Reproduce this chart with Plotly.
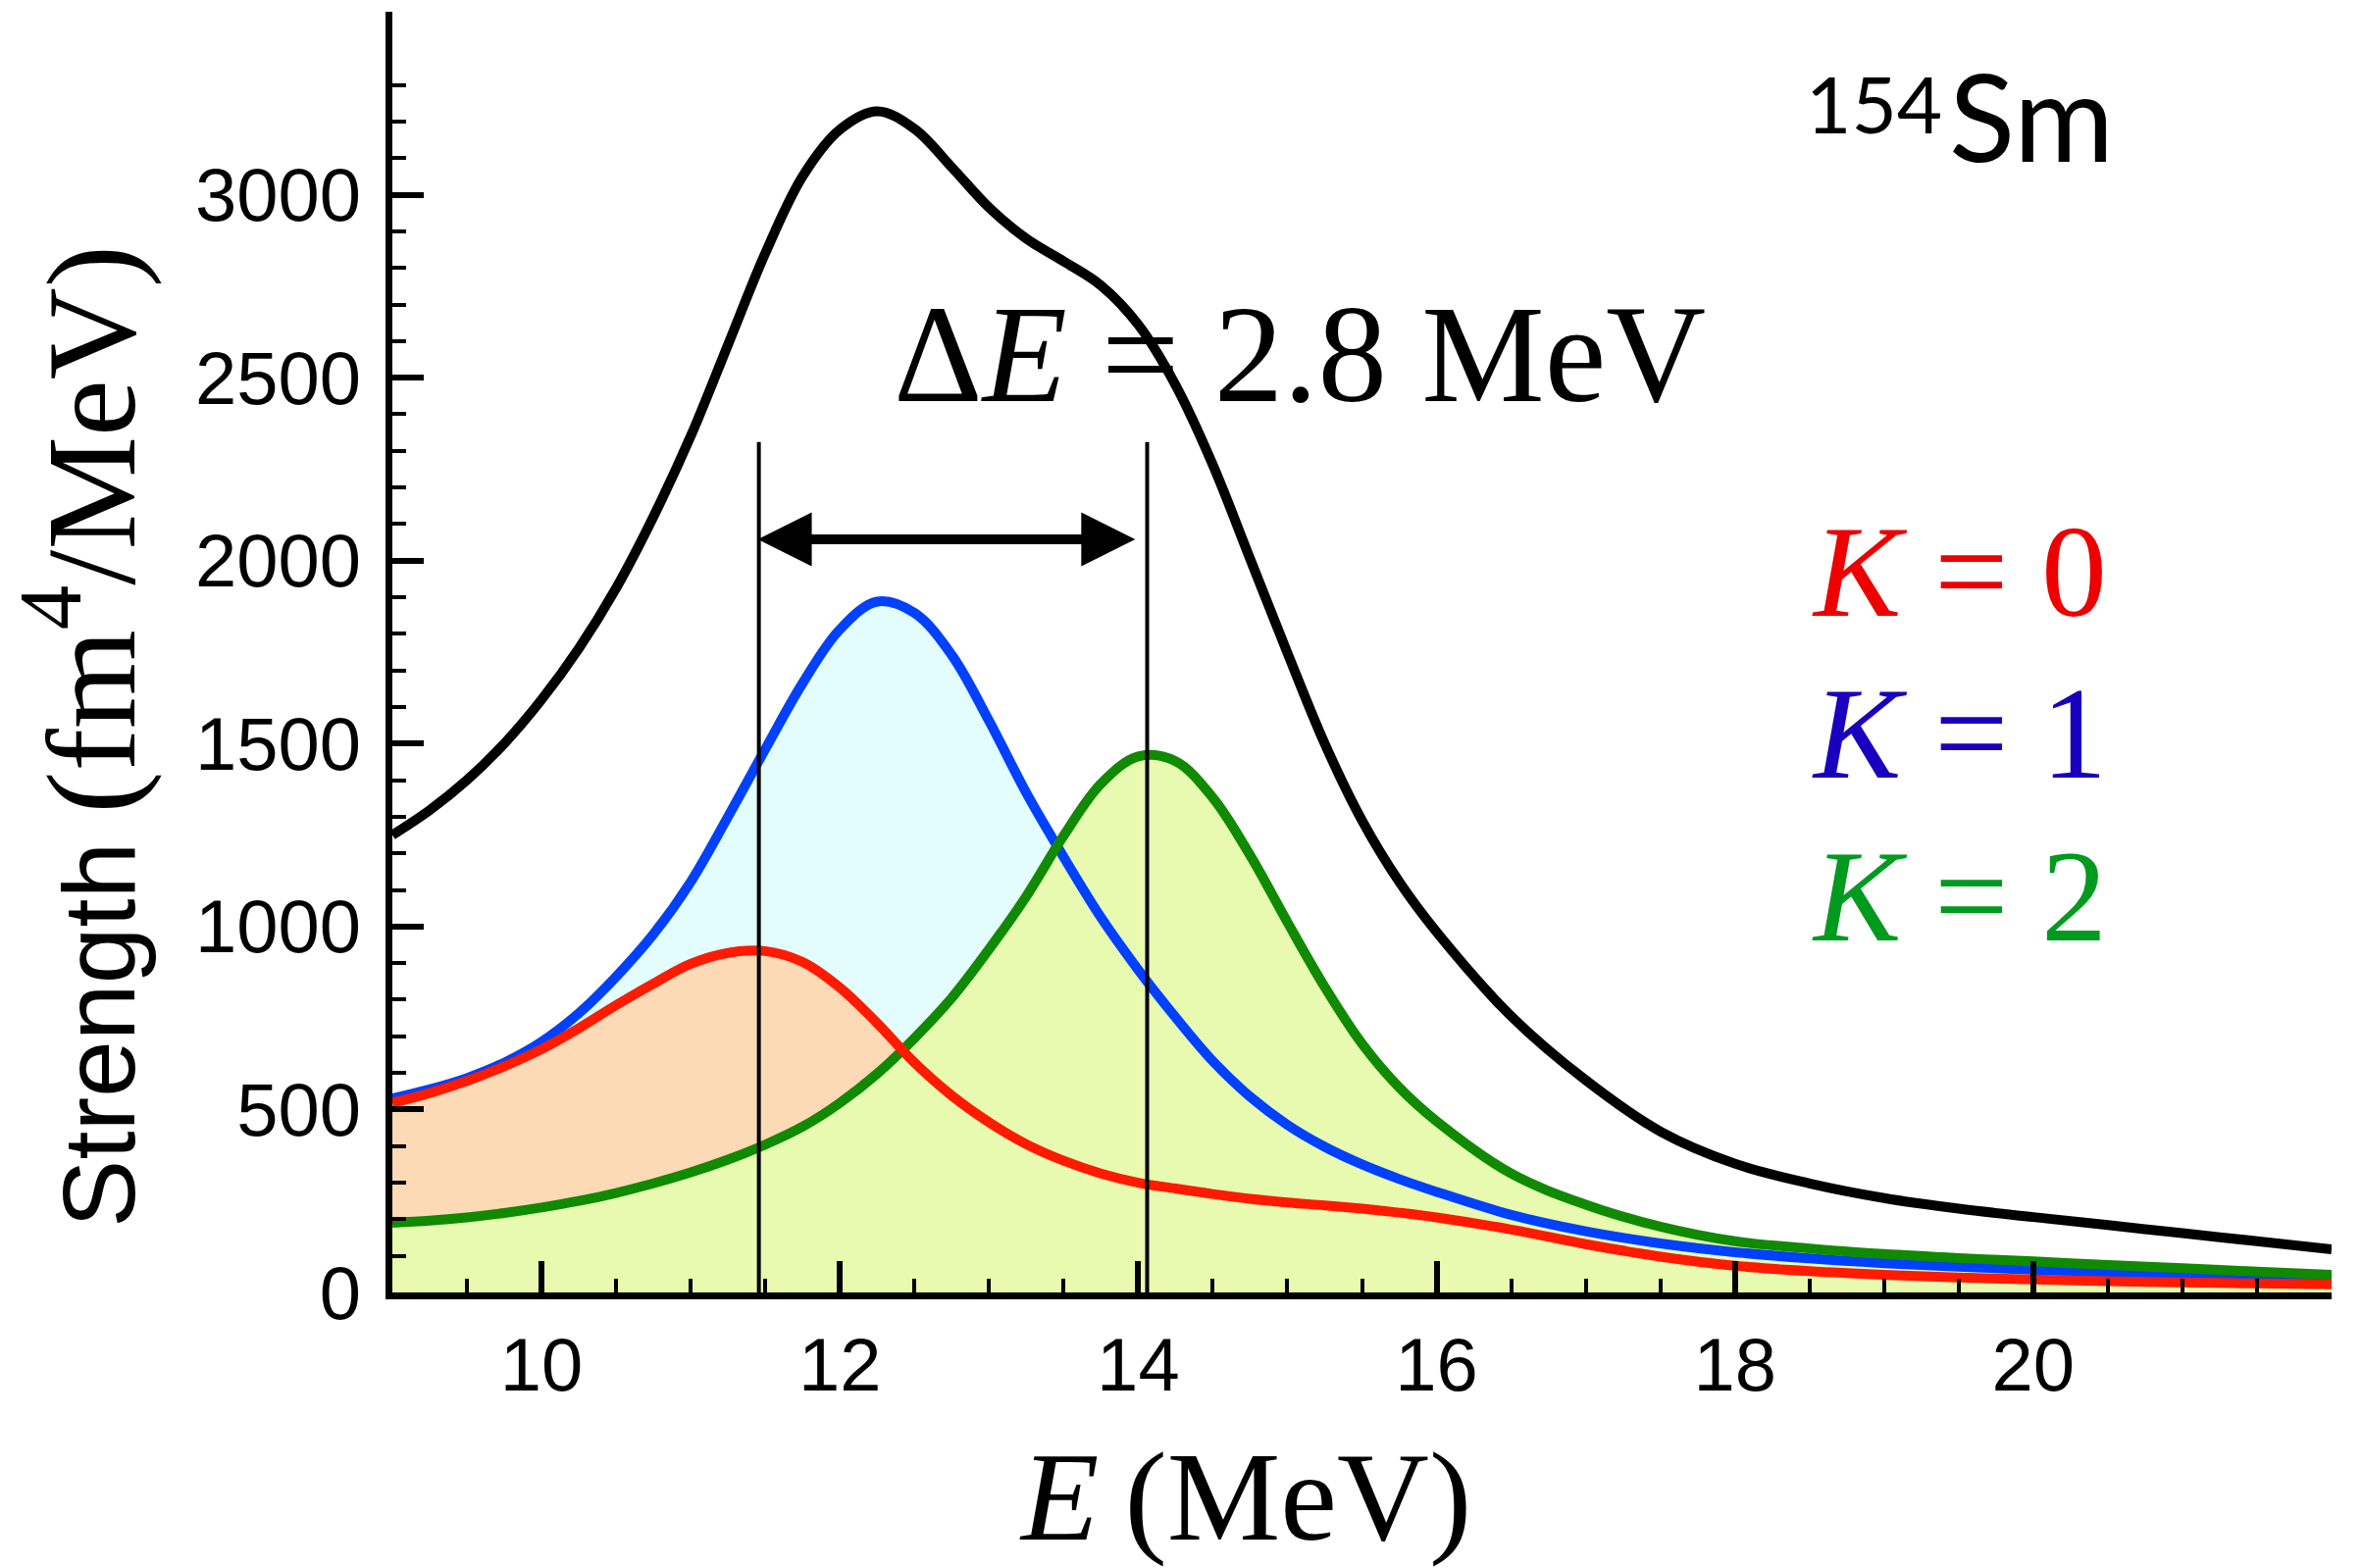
import plotly.graph_objects as go

# ---------------- data ----------------
energy = [9, 9.25, 9.5, 9.75, 10, 10.25, 10.5, 10.75, 11, 11.25, 11.5, 11.75, 12,
          12.25, 12.5, 12.75, 13, 13.25, 13.5, 13.75, 14, 14.25, 14.5, 14.75, 15,
          15.25, 15.5, 15.75, 16, 16.5, 17, 17.5, 18, 18.5, 19, 19.5, 20, 20.5,
          21, 21.5, 22]

total = [1250, 1318, 1400, 1500, 1620, 1760, 1925, 2120, 2340, 2590, 2840, 3050,
         3178, 3228, 3180, 3075, 2965, 2880, 2818, 2752, 2645, 2480, 2262, 2005,
         1748, 1500, 1290, 1122, 985, 755, 580, 440, 352, 298, 258, 229, 206, 184,
         162, 140, 118]

k0 = [518, 545, 578, 618, 665, 722, 785, 844, 898, 928, 933, 903, 833, 736, 628,
      538, 465, 405, 360, 325, 300, 284, 269, 256, 246, 238, 229, 218, 205, 172,
      132, 98, 73, 58, 48, 41, 35.5, 31, 27.5, 24.5, 22]

k1 = [530, 555, 586, 628, 685, 763, 863, 979, 1122, 1300, 1485, 1665, 1812, 1888,
      1857, 1742, 1562, 1365, 1190, 1025, 882, 752, 632, 535, 458, 398, 350, 310,
      275, 212, 167, 134, 110, 93, 80, 70, 62, 55, 48, 43, 38]

k2 = [190, 196, 205, 217, 232, 250, 272, 298, 328, 363, 404, 453, 518, 598, 695,
      805, 938, 1083, 1248, 1390, 1465, 1452, 1352, 1195, 1012, 835, 680, 560,
      468, 325, 240, 180, 140, 120, 105, 94, 85, 75, 66, 57, 48]

width_markers = [11.457, 14.06]   # energies of the two vertical guide lines
marker_top = 2324
arrow_level = 2058
arrow_ends = [11.44, 13.98]

x_major = [10, 12, 14, 16, 18, 20]
x_minor = [9.5, 10.5, 11, 11.5, 12.5, 13, 13.5, 14.5, 15, 15.5, 16.5, 17, 17.5,
           18.5, 19, 19.5, 20.5, 21, 21.5]
y_major = [0, 500, 1000, 1500, 2000, 2500, 3000]
y_minor = [v for v in range(100, 3400, 100) if v % 500 != 0]

# ---------------- styles ----------------
C_BLACK = "#000000"
C_RED = "#FF1A00"
C_BLUE = "#0040FF"
C_GREEN = "#108A00"
F_RED = "#FCDAB6"
F_BLUE = "#E3FDFD"
F_GREEN = "#E8FAB0"
LW = 10
SANS = "Liberation Sans"
SERIF = "Liberation Serif"
SMOOTH = 1.0

fig = go.Figure()

# fills (blue, red, green: later ones cover earlier ones)
for ys, fc in [(k1, F_BLUE), (k0, F_RED), (k2, F_GREEN)]:
    fig.add_trace(go.Scatter(x=energy, y=ys, mode="lines", fill="tozeroy",
                             fillcolor=fc, line=dict(width=0, shape="spline", smoothing=SMOOTH),
                             hoverinfo="skip", showlegend=False))

# curves
for ys, col in [(k1, C_BLUE), (k2, C_GREEN), (k0, C_RED), (total, C_BLACK)]:
    fig.add_trace(go.Scatter(x=energy, y=ys, mode="lines",
                             line=dict(color=col, width=LW, shape="spline", smoothing=SMOOTH),
                             showlegend=False))

# vertical guide lines
vx, vy = [], []
for e in width_markers:
    vx += [e, e, None]
    vy += [0, marker_top, None]
fig.add_trace(go.Scatter(x=vx, y=vy, mode="lines", line=dict(color="black", width=4),
                         showlegend=False))

annotations = []
# double arrow
annotations.append(dict(x=arrow_ends[1], y=arrow_level, ax=arrow_ends[0], ay=arrow_level,
                        xref="x", yref="y", axref="x", ayref="y", text="",
                        showarrow=True, arrowhead=2, startarrowhead=2, arrowside="end+start",
                        arrowsize=1.1, startarrowsize=1.1, arrowwidth=10, arrowcolor="black"))
# Delta E label
annotations.append(dict(x=12.35, y=2565, xref="x", yref="y", xanchor="left", yanchor="middle",
                        text="Δ<i>E</i> = 2.8 MeV", showarrow=False,
                        font=dict(family=SERIF, size=141, color="black")))
# nucleus label
annotations.append(dict(x=19.40, y=3250, xref="x", yref="y", xanchor="right", yanchor="middle",
                        text="154", showarrow=False, font=dict(family="Lato", size=80, color="black")))
annotations.append(dict(x=19.425, y=3218, xref="x", yref="y", xanchor="left", yanchor="middle",
                        text="Sm", showarrow=False, font=dict(family="Lato", size=124, color="black")))
# K labels
for lab, yv, col in [("0", 1970, "#EE0000"), ("1", 1527, "#1A00BE"), ("2", 1084, "#009A1E")]:
    annotations.append(dict(x=18.50, y=yv, xref="x", yref="y", xanchor="left", yanchor="middle",
                            text="<i>K</i> = " + lab, showarrow=False,
                            font=dict(family=SERIF, size=134, color=col)))
# axis titles
annotations.append(dict(x=0.440, y=-0.159, xref="paper", yref="paper", xanchor="center",
                        yanchor="middle", showarrow=False,
                        text="<i>E</i>\u2009(MeV)", font=dict(family=SERIF, size=130, color="black")))
annotations.append(dict(x=-0.1600, y=0.434, xref="paper", yref="paper", xanchor="center",
                        yanchor="middle", showarrow=False, textangle=-90,
                        text=("<span style=\"font-family:Liberation Sans;font-size:104px\">Strength </span>"
                              "<span style=\"font-family:Liberation Serif;font-size:130px\">(fm<sup>4</sup>/MeV)</span>"),
                        font=dict(family=SANS, size=104, color="black")))

# the page adds an 8px body margin, so the figure is 8px smaller and shifted
fig.update_layout(
    width=2400, height=1591,
    margin=dict(l=392, r=31, t=4, b=281),
    paper_bgcolor="white", plot_bgcolor="white",
    annotations=annotations,
    showlegend=False,
)
fig.update_xaxes(range=[9, 22], showgrid=False, zeroline=False,
                 showline=True, linecolor="black", linewidth=6.5,
                 tickmode="array", tickvals=x_major, ticktext=[str(v) for v in x_major],
                 ticks="inside", ticklen=32, tickwidth=6, tickcolor="black",
                 ticklabelstandoff=2,
                 tickfont=dict(family=SANS, size=76, color="black"),
                 minor=dict(tickmode="array", tickvals=x_minor, ticks="inside",
                            ticklen=14, tickwidth=3.5, tickcolor="black"))
fig.update_yaxes(range=[0, 3500], showgrid=False, zeroline=False,
                 showline=True, linecolor="black", linewidth=6.5,
                 tickmode="array", tickvals=y_major, ticktext=[str(v) for v in y_major],
                 ticks="inside", ticklen=32, tickwidth=6, tickcolor="black",
                 ticklabelstandoff=10,
                 tickfont=dict(family=SANS, size=76, color="black"),
                 minor=dict(tickmode="array", tickvals=y_minor, ticks="inside",
                            ticklen=14, tickwidth=3.5, tickcolor="black"))

fig.write_html("out.html")
